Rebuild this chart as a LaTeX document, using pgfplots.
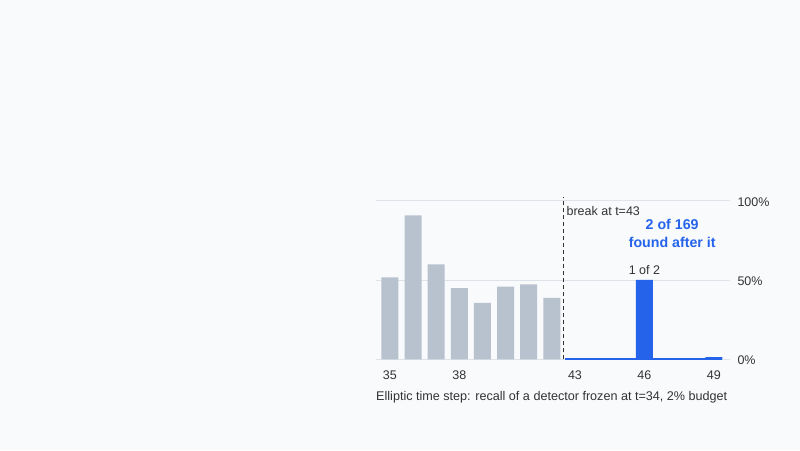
\documentclass[border=0pt]{standalone}
\usepackage{pgfplots}
\pgfplotsset{compat=1.18}
\usepackage{fontspec}
\setmainfont{Liberation Sans}
\definecolor{bg}{RGB}{248,250,252}
\definecolor{barg}{RGB}{184,194,207}
\definecolor{barb}{RGB}{37,99,235}
\definecolor{gridc}{RGB}{222,227,233}
\definecolor{txt}{RGB}{51,51,51}
\begin{document}
\begin{tikzpicture}[x=1pt,y=1pt]
\fill[bg] (0,0) rectangle (800,450);
\begin{axis}[
  at={(376pt,90.7pt)}, anchor=south west, scale only axis,
  width=354pt, height=158.6pt,
  xmin=34.4, xmax=49.7, ymin=0, ymax=100,
  axis line style={draw=none},
  tick style={draw=none}, major tick length=0pt,
  ymajorgrids, grid style={gridc, line width=0.9pt},
  ytick={0,50,100}, yticklabels={0\%,50\%,100\%}, yticklabel pos=right,
  yticklabel style={anchor=west, xshift=4pt, yshift=-1pt},
  xtick={35,38,43,46,49},
  xticklabel style={anchor=north, yshift=-7.5pt},
  ticklabel style={font=\fontsize{12.5}{15}\selectfont, text=txt},
  /pgf/number format/assume math mode=true,
  clip=false,
  ybar, bar width=17pt, bar shift=0pt,
]
\addplot[fill=barg, draw=none] coordinates {(35,51.7)(36,90.8)(37,59.9)(38,44.8)(39,35.5)(40,45.8)(41,47.3)(42,38.8)};
\addplot[barb, line width=1.8pt, sharp plot, mark=none] coordinates {(42.55,0.4)(49.35,0.4)};
\addplot[fill=barb, draw=none] coordinates {(46,50)(49,1.3)};
\draw[txt, line width=1.1pt, dash pattern=on 4pt off 3pt] (axis cs:42.5,0) -- (axis cs:42.5,102.5);
\node[anchor=west, inner sep=0pt, text=txt, font=\fontsize{12.5}{15}\selectfont] at (axis cs:42.63,93.3) {break at t=43};
\node[align=center, inner sep=0pt, text=barb, font=\bfseries\fontsize{14.2}{17.5}\selectfont] at (axis cs:47.2,79.5) {2 of 169\\found after it};
\node[inner sep=0pt, text=txt, font=\fontsize{12.5}{15}\selectfont] at (axis cs:46,56.3) {1 of 2};
\end{axis}
\node[anchor=west, inner sep=0pt, text=txt, font=\fontsize{12.6}{15}\selectfont] at (376,52.5) {Elliptic time step: recall of a detector frozen at t=34, 2\% budget};
\end{tikzpicture}
\end{document}
